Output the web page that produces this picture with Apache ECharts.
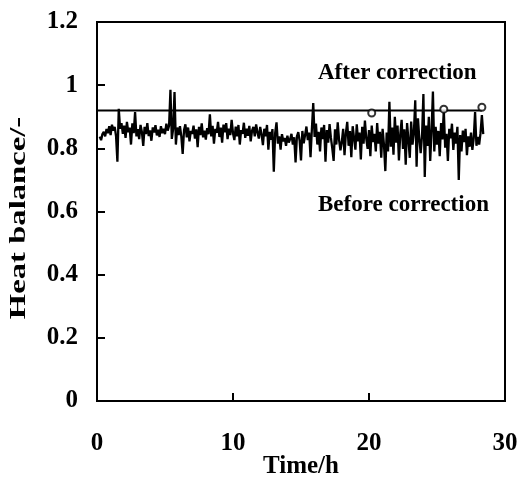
<!DOCTYPE html>
<html>
<head>
<meta charset="utf-8">
<script src="https://cdn.jsdelivr.net/npm/echarts@6/dist/echarts.min.js"></script>
<style>
  html, body { margin: 0; padding: 0; background: #fff; }
  #chart { width: 521px; height: 477px; }
</style>
</head>
<body>
<div id="chart"></div>
<script>
// Heat balance logged every 0.1 h, starting at 0.2 h (before correction)
const firstSampleHour = 0.2;
const sampleStepHour = 0.1;
const heatBefore = [
  0.837, 0.826, 0.845, 0.852, 0.838, 0.861, 0.848, 0.870,
  0.842, 0.875, 0.856, 0.868, 0.839, 0.758, 0.925, 0.862, 0.880, 0.846,
  0.872, 0.833, 0.884, 0.851, 0.866, 0.812, 0.879, 0.848, 0.915, 0.838,
  0.861, 0.829, 0.874, 0.852, 0.808, 0.868, 0.845, 0.880, 0.839, 0.857,
  0.824, 0.866, 0.850, 0.873, 0.841, 0.859, 0.836, 0.870, 0.848, 0.862,
  0.845, 0.878, 0.856, 0.872, 0.985, 0.830, 0.862, 0.978, 0.812, 0.866,
  0.842, 0.870, 0.838, 0.782, 0.858, 0.876, 0.835, 0.866, 0.822, 0.855,
  0.846, 0.872, 0.831, 0.860, 0.804, 0.868, 0.842, 0.879, 0.835, 0.856,
  0.828, 0.864, 0.845, 0.908, 0.838, 0.871, 0.815, 0.862, 0.849, 0.884,
  0.836, 0.866, 0.818, 0.875, 0.851, 0.880, 0.829, 0.862, 0.842, 0.890,
  0.848, 0.826, 0.869, 0.838, 0.874, 0.812, 0.858, 0.846, 0.881, 0.833,
  0.862, 0.840, 0.871, 0.822, 0.856, 0.868, 0.838, 0.876, 0.850, 0.831,
  0.868, 0.844, 0.810, 0.862, 0.838, 0.874, 0.796, 0.852, 0.827, 0.861,
  0.726, 0.848, 0.882, 0.815, 0.838, 0.796, 0.845, 0.822, 0.833, 0.808,
  0.840, 0.818, 0.829, 0.846, 0.812, 0.835, 0.755, 0.838, 0.851, 0.824,
  0.762, 0.855, 0.816, 0.842, 0.869, 0.826, 0.850, 0.772, 0.861, 0.943,
  0.836, 0.878, 0.812, 0.852, 0.790, 0.866, 0.829, 0.874, 0.758, 0.858,
  0.818, 0.877, 0.833, 0.800, 0.760, 0.860, 0.812, 0.882, 0.826, 0.794,
  0.820, 0.862, 0.778, 0.848, 0.884, 0.808, 0.855, 0.772, 0.870, 0.832,
  0.796, 0.876, 0.822, 0.850, 0.765, 0.868, 0.815, 0.888, 0.830, 0.798,
  0.858, 0.775, 0.872, 0.820, 0.846, 0.790, 0.880, 0.815, 0.852, 0.770,
  0.862, 0.812, 0.728, 0.850, 0.790, 0.947, 0.805, 0.866, 0.780, 0.900,
  0.818, 0.872, 0.762, 0.845, 0.890, 0.798, 0.860, 0.748, 0.880, 0.826,
  0.770, 0.885, 0.812, 0.850, 0.952, 0.742, 0.895, 0.830, 0.785, 0.840,
  0.972, 0.709, 0.872, 0.808, 0.900, 0.760, 0.855, 0.980, 0.790, 0.868,
  0.812, 0.855, 0.775, 0.880, 0.828, 0.921, 0.802, 0.846, 0.760, 0.862,
  0.832, 0.878, 0.795, 0.850, 0.815, 0.868, 0.700, 0.842, 0.790, 0.856,
  0.820, 0.862, 0.778, 0.838, 0.805, 0.850, 0.795, 0.832, 0.915, 0.808,
  0.836, 0.812, 0.848, 0.905, 0.845
];

// Corrected heat balance: flat level with a few marked check points
const afterHours = [0, 28.3];
const afterValues = [0.92, 0.92];
const checkHours = [20.2, 25.5, 28.3];
const checkValues = [0.912, 0.924, 0.930];

// Axis ticks
const xTicks = [0, 10, 20, 30];
const yTicks = [0, 0.2, 0.4, 0.6, 0.8, 1.0, 1.2];

const beforeData = heatBefore.map((v, i) => [+(firstSampleHour + i * sampleStepHour).toFixed(2), v]);
const afterData = afterHours.map((t, i) => [t, afterValues[i]]);
const checkData = checkHours.map((t, i) => [t, checkValues[i]]);

const serif = '"Liberation Serif", "Times New Roman", serif';

const chart = echarts.init(document.getElementById('chart'), null, { renderer: 'canvas' });
chart.setOption({
  animation: false,
  backgroundColor: '#fff',
  grid: {
    left: 97, right: 16, top: 22, bottom: 76,
    outerBoundsMode: 'none', containLabel: false,
    show: true, borderColor: '#000', borderWidth: 2, backgroundColor: 'transparent'
  },
  xAxis: {
    type: 'value',
    min: xTicks[0], max: xTicks[xTicks.length - 1], interval: 10,
    name: 'Time/h', nameLocation: 'middle', nameGap: 53, nameMoveOverlap: false,
    nameTextStyle: { fontFamily: serif, fontWeight: 'bold', fontSize: 25, color: '#000' },
    axisLine: { show: true, lineStyle: { color: '#000', width: 2 } },
    axisTick: { show: true, inside: true, length: 8, lineStyle: { color: '#000', width: 2 } },
    axisLabel: { fontFamily: serif, fontWeight: 'bold', fontSize: 25, color: '#000', margin: 30 },
    splitLine: { show: false }
  },
  yAxis: {
    type: 'value',
    min: yTicks[0], max: yTicks[yTicks.length - 1], interval: 0.2,
    axisLine: { show: true, lineStyle: { color: '#000', width: 2 } },
    axisTick: { show: true, inside: true, length: 8, lineStyle: { color: '#000', width: 2 } },
    axisLabel: {
      fontFamily: serif, fontWeight: 'bold', fontSize: 25, color: '#000', margin: 19,
      formatter: v => (Math.abs(v - Math.round(v)) < 1e-9 ? String(Math.round(v)) : v.toFixed(1))
    },
    splitLine: { show: false }
  },
  graphic: [
    // vertical axis title, widened along its reading direction
    {
      type: 'text', x: 19, y: 218, rotation: Math.PI / 2, scaleX: 1.42,
      style: { text: 'Heat balance/-', fontFamily: serif, fontWeight: 'bold', fontSize: 23, fill: '#000', align: 'center', verticalAlign: 'middle' }
    },
    { type: 'text', left: 318, top: 62, style: { text: 'After correction', fontFamily: serif, fontWeight: 'bold', fontSize: 23, fill: '#000' } },
    { type: 'text', left: 318, top: 194, style: { text: 'Before correction', fontFamily: serif, fontWeight: 'bold', fontSize: 23, fill: '#000' } }
  ],
  series: [
    {
      name: 'Before correction', type: 'line', data: beforeData,
      symbol: 'none', lineStyle: { color: '#000', width: 2.3 }, z: 2
    },
    {
      name: 'After correction', type: 'line', data: afterData,
      symbol: 'none', lineStyle: { color: '#000', width: 2 }, z: 3
    },
    {
      name: 'Check points', type: 'scatter', data: checkData,
      symbol: 'circle', symbolSize: 7,
      itemStyle: { color: '#fff', borderColor: '#000', borderWidth: 2 }, z: 4
    }
  ]
});
</script>
</body>
</html>
